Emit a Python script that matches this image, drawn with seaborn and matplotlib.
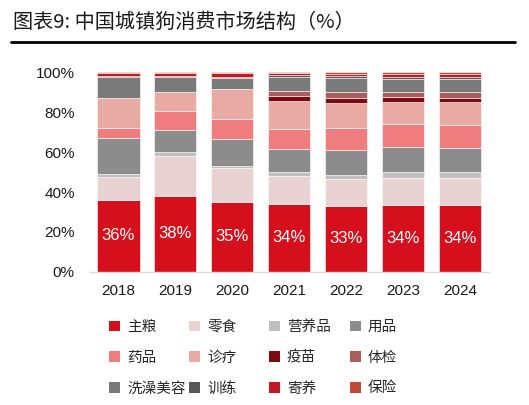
import numpy as np
import pandas as pd
import seaborn as sns
import matplotlib.pyplot as plt
from matplotlib.patches import Patch
from matplotlib.lines import Line2D

sns.set_theme(style='white')
plt.rcParams['font.family'] = ['Liberation Sans', 'Noto Sans CJK SC', 'DejaVu Sans']

# DATA (share of spending, %)
years = ['2018', '2019', '2020', '2021', '2022', '2023', '2024']
categories = ['主粮', '零食', '营养品', '用品', '药品', '诊疗', '疫苗', '体检',
              '洗澡美容', '训练', '寄养', '保险']
zhuliang = [36.0, 38.0, 35.0, 34.0, 33.2, 33.7, 33.7]
lingshi = [11.5, 20.0, 17.0, 14.2, 13.4, 13.4, 13.4]
yingyang = [1.5, 2.3, 1.0, 1.7, 2.0, 3.2, 3.2]
yongpin = [18.0, 11.0, 13.4, 11.7, 12.6, 12.5, 11.7]
yaopin = [5.0, 9.3, 10.3, 10.1, 11.0, 11.4, 11.7]
zhenliao = [15.0, 9.5, 15.2, 14.2, 12.4, 10.9, 11.4]
yimiao = [0.0, 0.0, 0.0, 2.5, 2.8, 2.7, 2.2]
tijian = [0.0, 0.0, 0.0, 2.2, 2.7, 2.3, 2.8]
xizao = [10.5, 7.5, 5.5, 7.3, 7.2, 6.5, 6.5]
xunlian = [0.7, 0.6, 0.5, 0.6, 0.8, 1.2, 1.0]
jiyang = [1.5, 1.5, 1.8, 1.2, 1.2, 1.5, 1.6]
baoxian = [0.3, 0.3, 0.3, 0.4, 0.7, 0.7, 0.8]
labels_main = ['36%', '38%', '35%', '34%', '33%', '34%', '34%']

series = [zhuliang, lingshi, yingyang, yongpin, yaopin, zhenliao, yimiao,
          tijian, xizao, xunlian, jiyang, baoxian]
colors = ['#d50f1b', '#e8d2d2', '#bfbfbf', '#8c8c8c', '#ef7d7d', '#e8aaa2',
          '#7d0a10', '#ad5c5c', '#7a7a7a', '#585858', '#c21a22', '#c04b34']

df = pd.DataFrame({'year': years})
for name, vals in zip(categories, series):
    df[name] = np.array(vals) / 100.0

fig = plt.figure(figsize=(5.29, 4.05), dpi=100)
ax = fig.add_axes([0.170, 0.329, 0.754, 0.492])

bottom = np.zeros(len(years))
for name, col in zip(categories, colors):
    sns.barplot(data=df, x='year', y=name, color=col, width=0.74,
                bottom=bottom, edgecolor='white', linewidth=0.4,
                saturation=1, ax=ax)
    bottom = bottom + df[name].values

# labels inside main food segment
for i, lab in enumerate(labels_main):
    ax.text(i, df['主粮'][i] / 2, lab, ha='center', va='center',
            color='white', fontsize=12)

ax.set_ylim(0, 1.0)
ax.set_xlim(-0.5, 6.5)
ax.set_yticks(np.arange(0, 1.01, 0.2))
ax.set_yticklabels(['0%', '20%', '40%', '60%', '80%', '100%'])
ax.set_xlabel('')
ax.set_ylabel('')
ax.tick_params(axis='both', labelsize=11, length=0, colors='#1a1a1a')
ax.tick_params(axis='y', pad=11)
ax.tick_params(axis='x', pad=9)
for s in ['top', 'right', 'left']:
    ax.spines[s].set_visible(False)
ax.spines['bottom'].set_color('#d9d9d9')
ax.spines['bottom'].set_linewidth(1)

# legend: 4 fixed-width columns, 3 rows, filled row by row
handles = [Patch(facecolor=c, edgecolor='none', label=n)
           for n, c in zip(categories, colors)]
col_x = [0.206, 0.357, 0.508, 0.661]
for c in range(4):
    fig.legend(handles=[handles[r * 4 + c] for r in range(3)],
               loc='upper left', bbox_to_anchor=(col_x[c], 0.210),
               borderaxespad=0, borderpad=0, frameon=False,
               handlelength=0.75, handleheight=0.75, handletextpad=0.5,
               labelspacing=1.15,
               prop={'family': 'Noto Sans CJK SC', 'size': 10.5})

# title with underline
fig.text(0.024, 0.945, '图表9: 中国城镇狗消费市场结构（%）', fontsize=14.5,
         family=['Noto Sans CJK SC'], color='#1a1a1a', va='center')
fig.add_artist(Line2D([0.021, 0.974], [0.896, 0.896], transform=fig.transFigure,
                      color='black', linewidth=2))

fig.savefig('out.png', dpi=100)
